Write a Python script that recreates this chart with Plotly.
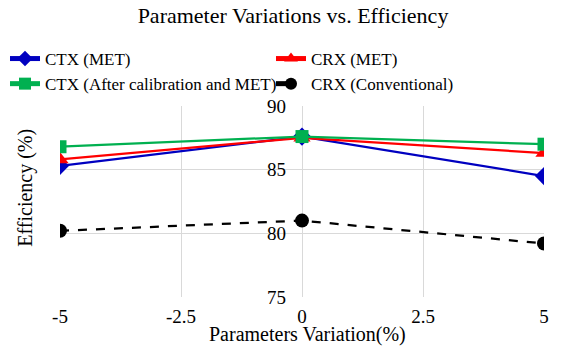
import plotly.graph_objects as go

variation = [-5, 0, 5]
ctx_met = [85.3, 87.6, 84.5]
crx_met = [85.8, 87.5, 86.3]
ctx_cal_met = [86.8, 87.6, 87.0]
crx_conv = [80.2, 81.0, 79.2]
x_ticks = [-5, -2.5, 0, 2.5, 5]
y_ticks = [75, 80, 85, 90]

FONT = "Liberation Serif"
W, H = 561, 353

fig = go.Figure()
series = [
    ("CTX (MET)", ctx_met, "#0000C0", "diamond", 14, "solid", "legend"),
    ("CRX (MET)", crx_met, "#FF0000", "triangle-up", 15, "solid", "legend2"),
    ("CTX (After calibration and MET)", ctx_cal_met, "#00B050", "square", 13, "solid", "legend"),
    ("CRX (Conventional)", crx_conv, "#000000", "circle", 14, "dash", "legend2"),
]
for name, vals, col, sym, sz, dash, lg in series:
    fig.add_trace(go.Scatter(
        x=variation, y=vals, name=name, mode="lines+markers",
        line=dict(color=col, width=2.25, dash=dash),
        marker=dict(symbol=sym, size=sz, color=col),
        legend=lg,
    ))

def leg(x):
    return dict(orientation="v", xref="container", yref="container",
                x=x, y=1 - 41 / H, xanchor="left", yanchor="top",
                font=dict(size=17, family=FONT, color="#000"),
                itemsizing="constant", itemwidth=30, tracegroupgap=0,
                bgcolor="rgba(0,0,0,0)")

fig.update_layout(
    width=W, height=H,
    margin=dict(l=60, r=17, t=106, b=56, autoexpand=False),
    paper_bgcolor="white", plot_bgcolor="white",
    font=dict(family=FONT, size=16, color="#000"),
    title=dict(text="Parameter Variations vs. Efficiency", xref="container",
               x=293 / W, xanchor="center", yref="container",
               y=1 - 15 / H, yanchor="middle", font=dict(size=22, family=FONT)),
    legend=leg(5 / W),
    legend2=leg(271 / W),
    showlegend=True,
)
fig.update_xaxes(range=[-5, 5], tickvals=x_ticks, ticktext=[f"{v:g}" for v in x_ticks],
                 tickfont=dict(family=FONT, size=19),
                 showgrid=True, gridcolor="#d9d9d9", gridwidth=1, zeroline=False,
                 showline=False, ticks="", ticklabelstandoff=6, automargin=False)
fig.update_yaxes(range=[75, 90], tickvals=y_ticks, showgrid=True, gridcolor="#d9d9d9",
                 tickfont=dict(family=FONT, size=19),
                 gridwidth=1, zeroline=False, showline=False,
                 anchor="free", position=(286 - 60) / 484, ticks="", ticklabelstandoff=0,
                 automargin=False)
fig.add_annotation(text="Efficiency (%)", xref="paper", yref="paper", x=-0.072, y=0.573,
                   textangle=-90, showarrow=False, font=dict(size=20, family=FONT),
                   xanchor="center", yanchor="middle")
fig.add_annotation(text="Parameters Variation(%)", xref="paper", yref="paper",
                   x=(307 - 60) / 484, y=-(334 - 297) / 191, showarrow=False,
                   font=dict(size=20, family=FONT), xanchor="center", yanchor="middle")
fig.write_html("out.html")
